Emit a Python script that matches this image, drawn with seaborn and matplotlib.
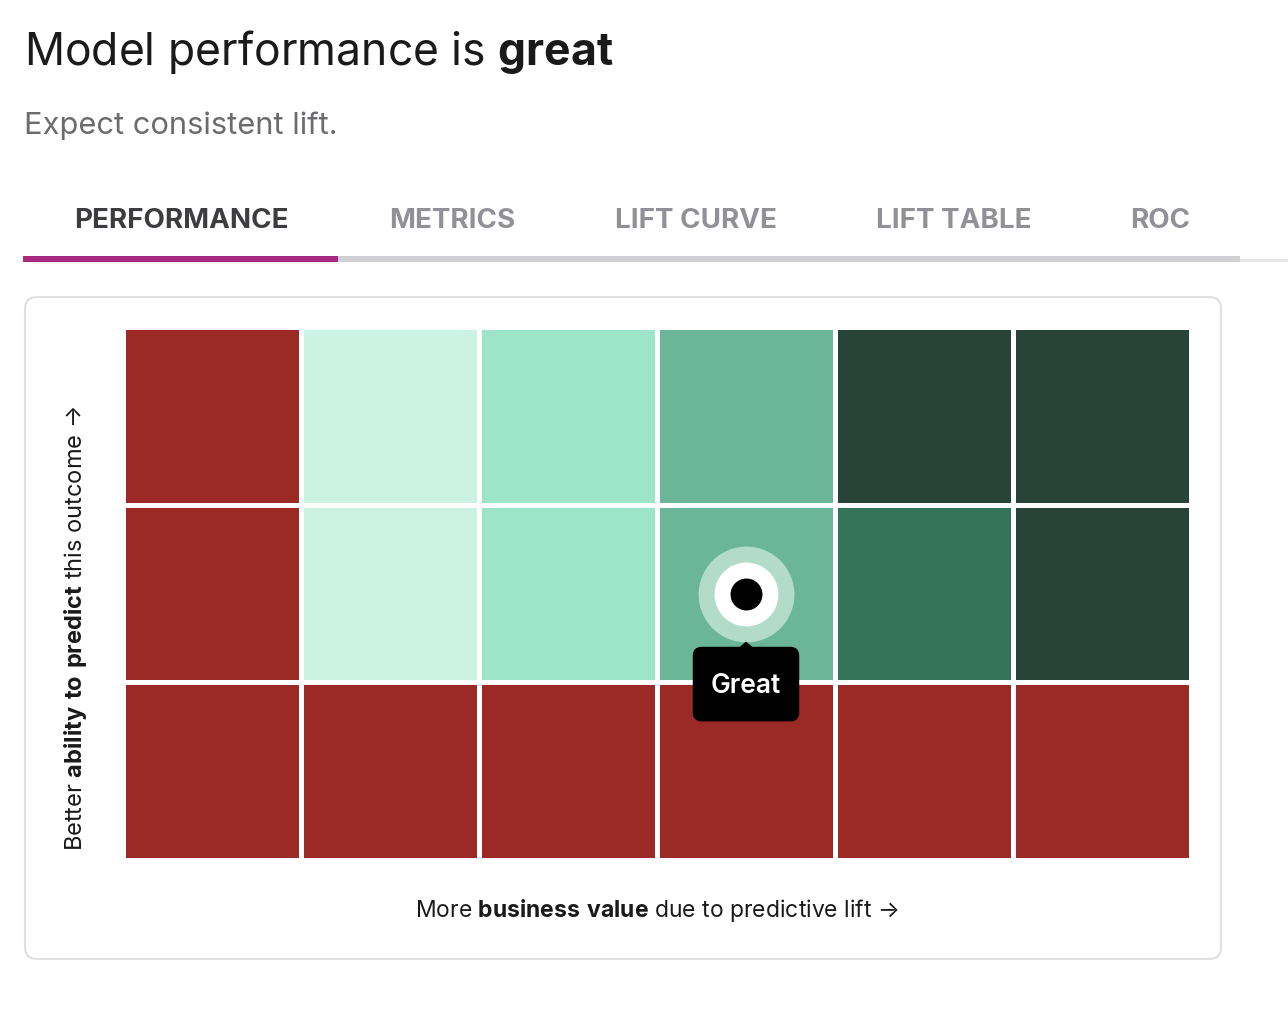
import numpy as np
import pandas as pd
import seaborn as sns
import matplotlib.pyplot as plt
from matplotlib.colors import ListedColormap
from matplotlib.patches import FancyBboxPatch, Rectangle, Polygon

# ---- data ----
title_plain = "Model performance is "
title_bold = "great"
subtitle = "Expect consistent lift."
tab_labels = ["PERFORMANCE", "METRICS", "LIFT CURVE", "LIFT TABLE", "ROC"]
active_tab = 0
# performance level of each cell, top row first (0 = poor ... 5 = best)
grid_levels = [
    [0, 1, 2, 3, 5, 5],
    [0, 1, 2, 3, 4, 5],
    [0, 0, 0, 0, 0, 0],
]
level_colors = ["#9b2925", "#ccf2e3", "#9ce5c9", "#6bb598", "#337459", "#284439"]
marker_row, marker_col = 1, 3
marker_label = "Great"
ylabel_parts = ("Better ", "ability to predict", " this outcome →")
xlabel_parts = ("More ", "business value", " due to predictive lift →")

sns.set_theme(style="white")
plt.rcParams['font.family'] = ['Inter', 'DejaVu Sans']
plt.rcParams['mathtext.fontset'] = 'custom'
plt.rcParams['mathtext.rm'] = 'Inter'
plt.rcParams['mathtext.bf'] = 'Inter:bold'

W, H = 1288, 1014
fig = plt.figure(figsize=(W / 100, H / 100), dpi=100)
fig.patch.set_facecolor('white')

# overlay in pixel coordinates for the page chrome
ov = fig.add_axes([0, 0, 1, 1])
ov.set_xlim(0, W)
ov.set_ylim(H, 0)
ov.axis('off')


def mbold(s):
    return r"$\mathbf{" + s.replace(" ", r"\ ") + "}$"


ov.text(24, 52, title_plain + mbold(title_bold), fontsize=32, color="#1a1a1a",
        va='center', ha='left')
ov.text(24, 126, subtitle, fontsize=22.2, color="#6b6b70", va='center', ha='left')

tab_centers = [181, 452, 696, 954, 1160]
for i, (lab, cx) in enumerate(zip(tab_labels, tab_centers)):
    ov.text(cx, 221, lab, fontsize=20, fontweight='bold', ha='center', va='center',
            color="#3c3c41" if i == active_tab else "#919097")
ov.add_patch(Rectangle((1240, 259), 48, 3, color="#e4e4e6", lw=0))
ov.add_patch(Rectangle((338, 256), 902, 6, color="#d1d0d5", lw=0))
ov.add_patch(Rectangle((23, 256), 315, 6, color="#a8287f", lw=0))

ov.add_patch(FancyBboxPatch((25, 297), 1196, 662, boxstyle="round,pad=0,rounding_size=12",
                            fc='white', ec="#e0e0e0", lw=1.5))

ov.text(76, 628, ylabel_parts[0] + mbold(ylabel_parts[1]) + ylabel_parts[2],
        fontsize=17, rotation=90, ha='center', va='center', color="#1a1a1a")
ov.text(657, 910, xlabel_parts[0] + mbold(xlabel_parts[1]) + xlabel_parts[2],
        fontsize=16.5, ha='center', va='center', color="#1a1a1a")

# ---- heatmap ----
df = pd.DataFrame(grid_levels)
ax = fig.add_axes([123 / W, 1 - 860 / H, 1068 / W, 533 / H])
sns.heatmap(df, cmap=ListedColormap(level_colors), vmin=-0.5, vmax=len(level_colors) - 0.5,
            linewidths=2.5, linecolor='white', cbar=False,
            xticklabels=False, yticklabels=False, ax=ax)
ax.axis('off')

mx, my = marker_col + 0.5, marker_row + 0.5
ax.scatter([mx], [my], s=69 ** 2, color="#b3dbca", zorder=5, linewidths=0)
ax.scatter([mx], [my], s=46 ** 2, color="white", zorder=6, linewidths=0)
ax.scatter([mx], [my], s=23 ** 2, color="black", zorder=7, linewidths=0)

bw, bh = 0.598, 0.42
by = my + 0.30
ax.add_patch(FancyBboxPatch((mx - bw / 2, by), bw, bh,
                            boxstyle="round,pad=0,rounding_size=0.05",
                            fc='black', ec='none', zorder=8, clip_on=False))
ax.add_patch(Polygon([[mx - 0.04, by + 0.005], [mx + 0.04, by + 0.005], [mx, by - 0.03]],
                     closed=True, fc='black', ec='none', zorder=8, clip_on=False))
ax.text(mx, by + bh / 2 + 0.01, marker_label, color='white', fontsize=19, ha='center',
        va='center', zorder=9, fontweight='semibold')

fig.savefig("out.png", dpi=100, facecolor='white')
